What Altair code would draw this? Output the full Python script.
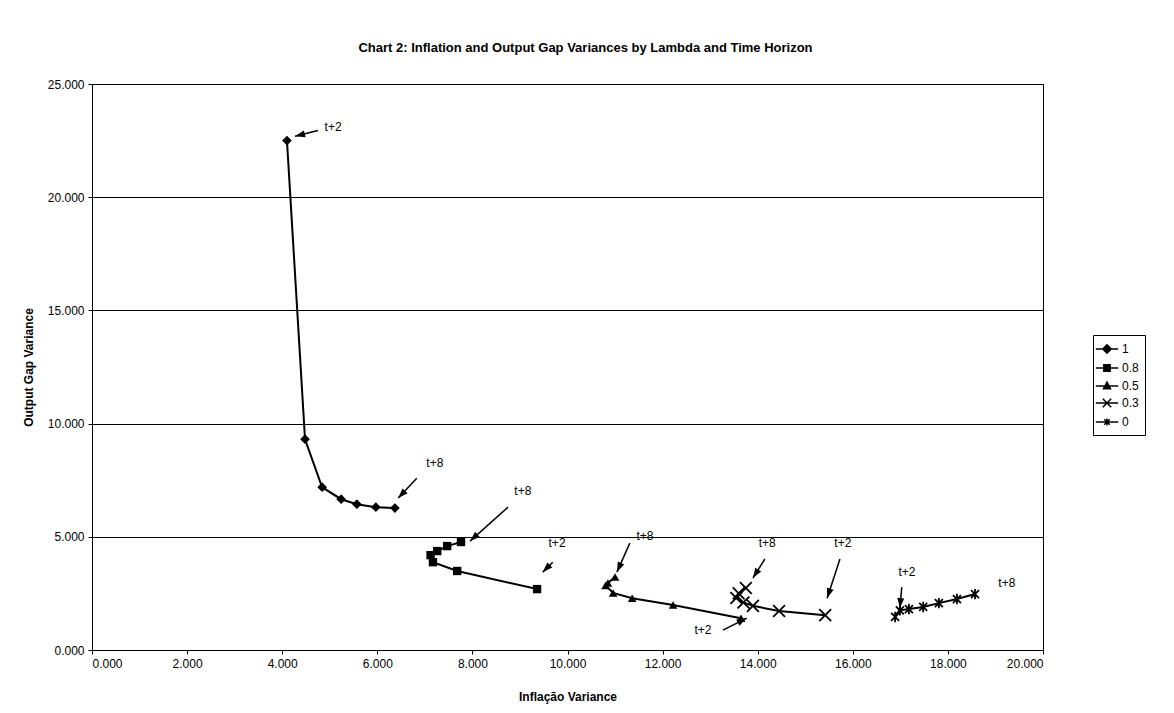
import math
import altair as alt
import pandas as pd

# ---------------- data ----------------
series = ["1", "0.8", "0.5", "0.3", "0"]
horizons = ["t+2", "t+3", "t+4", "t+5", "t+6", "t+7", "t+8"]

x_l1 = [4.10, 4.48, 4.84, 5.24, 5.57, 5.97, 6.37]
y_l1 = [22.50, 9.31, 7.19, 6.66, 6.44, 6.31, 6.27]
x_l08 = [9.36, 7.68, 7.17, 7.12, 7.26, 7.47, 7.76]
y_l08 = [2.69, 3.49, 3.88, 4.19, 4.37, 4.59, 4.77]
x_l05 = [13.65, 12.22, 11.36, 10.96, 10.80, 10.85, 11.00]
y_l05 = [1.40, 1.99, 2.29, 2.52, 2.85, 2.96, 3.22]
x_l03 = [15.42, 14.45, 13.90, 13.70, 13.55, 13.60, 13.75]
y_l03 = [1.54, 1.72, 1.95, 2.10, 2.30, 2.50, 2.74]
x_l0 = [16.89, 16.99, 17.18, 17.48, 17.81, 18.19, 18.57]
y_l0 = [1.46, 1.75, 1.81, 1.90, 2.07, 2.25, 2.47]

# annotation labels
ann_text = ["t+2", "t+8", "t+8", "t+2", "t+8", "t+8", "t+2", "t+2", "t+2", "t+8"]
ann_x = [5.07, 7.21, 9.06, 9.78, 11.63, 14.20, 15.79, 12.85, 17.14, 19.24]
ann_y = [23.10, 8.25, 7.02, 4.72, 5.03, 4.72, 4.72, 0.88, 3.44, 2.96]

# annotation arrows (tail -> tip)
arr_x1 = [4.75, 6.83, 8.75, 9.69, 11.31, 14.15, 15.73, 13.27, 17.03]
arr_y1 = [22.95, 7.59, 6.31, 3.88, 4.72, 4.02, 4.02, 0.88, 2.78]
arr_x2 = [4.27, 6.44, 7.95, 9.48, 11.04, 13.90, 15.46, 13.77, 16.99]
arr_y2 = [22.69, 6.71, 4.81, 3.44, 3.44, 3.18, 2.29, 1.41, 1.85]

x_ticks = [0, 2, 4, 6, 8, 10, 12, 14, 16, 18, 20]
y_ticks = [0, 5, 10, 15, 20, 25]

# ---------------- tables ----------------
rows = []
for s, xs, ys in zip(series, [x_l1, x_l08, x_l05, x_l03, x_l0],
                     [y_l1, y_l08, y_l05, y_l03, y_l0]):
    for i, (h, xv, yv) in enumerate(zip(horizons, xs, ys)):
        rows.append({"series": s, "horizon": h, "order": i, "x": xv, "y": yv})
df = pd.DataFrame(rows)

W, H = 951, 566
pxu, pyu = W / 20.0, H / 25.0
arr = pd.DataFrame({"x1": arr_x1, "y1": arr_y1, "x2": arr_x2, "y2": arr_y2})
arr["angle"] = [
    math.degrees(math.atan2((b - a) * pxu, (d - c) * pyu)) % 360
    for a, b, c, d in zip(arr_x1, arr_x2, arr_y1, arr_y2)
]
ann = pd.DataFrame({"text": ann_text, "x": ann_x, "y": ann_y})

FONT = "Liberation Sans"
xs = alt.Scale(domain=[0, 20], nice=False, zero=False)
ys = alt.Scale(domain=[0, 25], nice=False, zero=False)

xaxis = alt.Axis(values=x_ticks, format=".3f", title="Inflação Variance", grid=False,
                 titlePadding=22)
yaxis = alt.Axis(values=y_ticks, format=".3f", title="Output Gap Variance", grid=True,
                 gridColor="black", gridWidth=1, gridOpacity=1, titlePadding=12)

X = alt.X("x:Q", scale=xs, axis=xaxis)
Y = alt.Y("y:Q", scale=ys, axis=yaxis)
Xp = alt.X("x:Q", scale=xs)
Yp = alt.Y("y:Q", scale=ys)

lines = alt.Chart(df).mark_line(color="black", strokeWidth=2).encode(
    x=X, y=Y, detail="series:N", order="order:Q")

xpath = "M-1,-1L1,1M-1,1L1,-1"
starpath = "M-1,-1L1,1M-1,1L1,-1M0,-1.3L0,1.3"
marker_specs = [
    ("1", dict(shape="diamond", size=95, filled=True, color="black")),
    ("0.8", dict(shape="square", size=70, filled=True, color="black")),
    ("0.5", dict(shape="triangle-up", size=75, filled=True, color="black")),
    ("0.3", dict(shape=xpath, size=140, filled=False, color="black", strokeWidth=1.8)),
    ("0", dict(shape=starpath, size=64, filled=False, color="black", strokeWidth=1.8)),
]
point_layers = [
    alt.Chart(df).transform_filter(alt.datum.series == s)
    .mark_point(opacity=1, **kw).encode(x=Xp, y=Yp)
    for s, kw in marker_specs
]

# legend symbols: line through marker
lp = "M-1.6,0L1.6,0"
leg_shapes = [
    lp + "M0,-0.6L0.6,0L0,0.6L-0.6,0Z",
    lp + "M-0.45,-0.45L0.45,-0.45L0.45,0.45L-0.45,0.45Z",
    lp + "M0,-0.55L0.5,0.4L-0.5,0.4Z",
    lp + "M-0.6,-0.6L0.6,0.6M-0.6,0.6L0.6,-0.6",
    lp + "M-0.4,-0.4L0.4,0.4M-0.4,0.4L0.4,-0.4M0,-0.5L0,0.5",
]
leg = alt.Legend(
    title=None, orient="none", legendX=1001, legendY=251,
    symbolSize=196, symbolStrokeWidth=1.5, symbolOpacity=1,
    labelFont=FONT, labelFontSize=12, labelColor="black",
    strokeColor="black", fillColor="white", padding=6,
    rowPadding=3, labelOffset=7, labelLimit=200,
)
legend_layer = alt.Chart(df).mark_point(filled=True, strokeWidth=1.5, opacity=0).encode(
    x=Xp, y=Yp,
    shape=alt.Shape("series:N", scale=alt.Scale(domain=series, range=leg_shapes), legend=leg),
    stroke=alt.Stroke("series:N", scale=alt.Scale(domain=series, range=["black"] * 5), legend=leg),
    fill=alt.Fill("series:N", scale=alt.Scale(domain=series, range=["black"] * 5), legend=leg),
)

rules = alt.Chart(arr).mark_rule(color="black", strokeWidth=1.5).encode(
    x=alt.X("x1:Q", scale=xs), y=alt.Y("y1:Q", scale=ys),
    x2="x2:Q", y2="y2:Q")

heads = alt.Chart(arr).mark_point(
    shape="M0,0L0.7,2L-0.7,2Z", filled=True, color="black", size=100, opacity=1
).encode(
    x=alt.X("x2:Q", scale=xs), y=alt.Y("y2:Q", scale=ys),
    angle=alt.Angle("angle:Q", scale=None))

texts = alt.Chart(ann).mark_text(font=FONT, fontSize=12, color="black",
                                 align="center", baseline="middle").encode(
    x=alt.X("x:Q", scale=xs), y=alt.Y("y:Q", scale=ys), text="text:N")

chart = alt.layer(lines, *point_layers, legend_layer, rules, heads, texts).properties(
    width=W, height=H,
    title=alt.TitleParams(
        "Chart 2: Inflation and Output Gap Variances by Lambda and Time Horizon",
        font=FONT, fontSize=13, fontWeight="bold", color="black",
        anchor="middle", dx=18, offset=23),
    autosize=alt.AutoSizeParams(type="none"),
    padding={"left": 84, "top": 76, "right": 120, "bottom": 55},
).configure_view(
    stroke="black", strokeWidth=1
).configure_axis(
    labelFont=FONT, labelFontSize=12, labelColor="black",
    titleFont=FONT, titleFontSize=12, titleFontWeight="bold", titleColor="black",
    domainColor="black", tickColor="black", tickSize=4, labelPadding=4,
)

chart.save("out.html", embed_options={"renderer": "svg", "actions": False})
